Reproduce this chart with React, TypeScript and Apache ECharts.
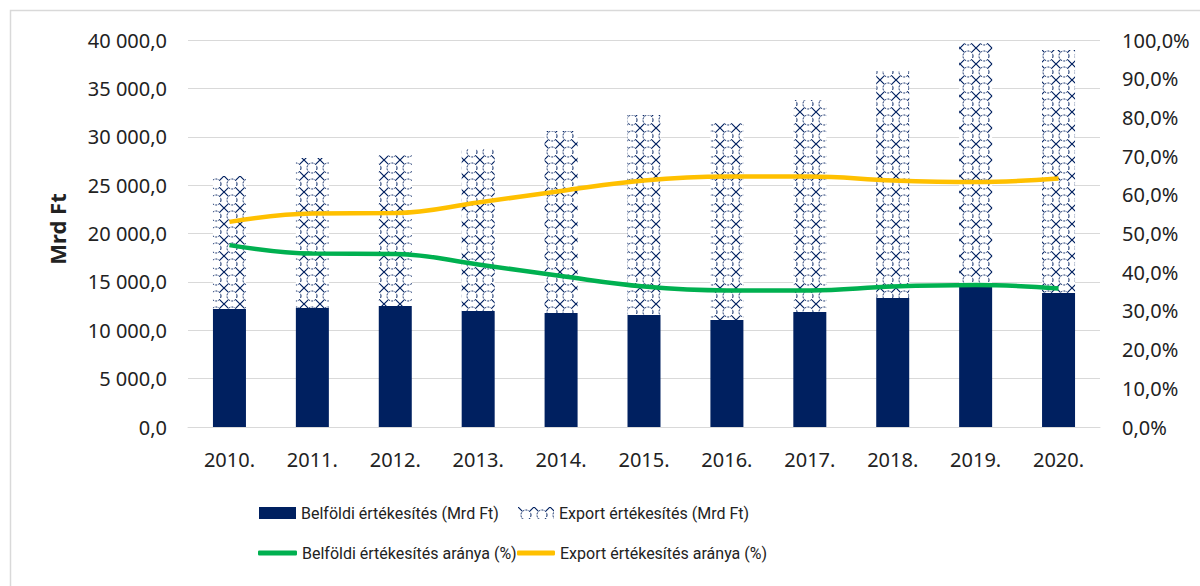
import React, { useEffect, useRef } from "react";
import * as echarts from "echarts";

const categories = ["2010.", "2011.", "2012.", "2013.", "2014.", "2015.", "2016.", "2017.", "2018.", "2019.", "2020."];
const domesticSales = [12200, 12300, 12500, 12000, 11780, 11580, 11060, 11890, 13330, 14570, 13850];
const exportSales = [13750, 15500, 15600, 16730, 18810, 20670, 20360, 21900, 23470, 25120, 25120];
const domesticShare = [47.0, 44.8, 44.7, 42.0, 39.0, 36.3, 35.3, 35.3, 36.3, 36.7, 35.8];
const exportShare = [53.0, 55.2, 55.3, 58.0, 61.0, 63.7, 64.7, 64.7, 63.7, 63.3, 64.2];

const leftTicks = { min: 0, max: 40000, interval: 5000 };
const rightTicks = { min: 0, max: 100, interval: 10 };

const NAVY = "#002060";
const GREEN = "#00B050";
const YELLOW = "#FFC000";
const FONT = "'Noto Sans', sans-serif";
const LEGEND_FONT = "Roboto, 'Noto Sans', sans-serif";

const S_DOM = "Belföldi értékesítés (Mrd Ft)";
const S_EXP = "Export értékesítés (Mrd Ft)";
const S_DOM_SH = "Belföldi értékesítés aránya (%)";
const S_EXP_SH = "Export értékesítés aránya (%)";

function makePattern(): HTMLCanvasElement {
  const s = 16;
  const c = document.createElement("canvas");
  c.width = s;
  c.height = s;
  const ctx = c.getContext("2d")!;
  ctx.fillStyle = "#ffffff";
  ctx.fillRect(0, 0, s, s);
  ctx.strokeStyle = NAVY;
  ctx.lineWidth = 1;
  ctx.setLineDash([2, 1.2]);
  ctx.beginPath();
  ctx.arc(s / 2, s / 2, 5, 0, Math.PI * 2);
  ctx.stroke();
  ctx.setLineDash([]);
  ctx.lineWidth = 1.2;
  ctx.beginPath();
  const a = 4.2;
  for (const [x, y] of [[0, 0], [s, 0], [0, s], [s, s]]) {
    ctx.moveTo(x - a, y - a);
    ctx.lineTo(x + a, y + a);
    ctx.moveTo(x + a, y - a);
    ctx.lineTo(x - a, y + a);
  }
  ctx.stroke();
  return c;
}

function fmtThousands(v: number): string {
  return Math.round(v).toString().replace(/\B(?=(\d{3})+(?!\d))/g, " ") + ",0";
}

export default function App() {
  const ref = useRef<HTMLDivElement>(null);
  useEffect(() => {
    if (!ref.current) return;
    const chart = echarts.init(ref.current, undefined, { renderer: "svg" });
    const pattern = { image: makePattern(), repeat: "repeat" as const };
    const axisText = { fontFamily: FONT, fontSize: 20, color: "#222" };
    const legendText = { fontFamily: LEGEND_FONT, fontSize: 16, color: "#222", lineHeight: 22 };
    const legendBase = {
      orient: "horizontal" as const,
      padding: 0,
      itemGap: 0,
      textStyle: legendText,
      selectedMode: false,
    };
    chart.setOption({
      animation: false,
      backgroundColor: "#ffffff",
      textStyle: { fontFamily: FONT },
      graphic: [
        {
          type: "rect",
          shape: { x: 10.5, y: 10.5, width: 1200, height: 600 },
          style: { fill: "none", stroke: "#d9d9d9", lineWidth: 1.5 },
          silent: true,
        },
        {
          type: "text",
          x: 57,
          y: 229,
          rotation: Math.PI / 2,
          style: {
            text: "Mrd Ft",
            fontFamily: FONT,
            fontSize: 22,
            fontWeight: "bold",
            fill: "#222",
            align: "center",
            verticalAlign: "middle",
          },
        },
      ],
      grid: { left: 188, right: 100, top: 40, bottom: 159 },
      legend: [
        { ...legendBase, left: 259, top: 502, itemWidth: 37, itemHeight: 12, icon: "rect", data: [S_DOM] },
        { ...legendBase, left: 518, top: 502, itemWidth: 36, itemHeight: 12, icon: "rect", data: [S_EXP] },
        { ...legendBase, left: 258, top: 542, itemWidth: 39, itemHeight: 5, icon: "roundRect", data: [S_DOM_SH] },
        { ...legendBase, left: 517, top: 542, itemWidth: 38, itemHeight: 5, icon: "roundRect", data: [S_EXP_SH] },
      ],
      xAxis: {
        type: "category",
        data: categories,
        axisLine: { show: true, lineStyle: { color: "#d9d9d9", width: 1 } },
        axisTick: { show: false },
        axisLabel: { ...axisText, margin: 22 },
      },
      yAxis: [
        {
          type: "value",
          min: leftTicks.min,
          max: leftTicks.max,
          interval: leftTicks.interval,
          axisLine: { show: false },
          axisTick: { show: false },
          splitLine: { lineStyle: { color: "#d9d9d9", width: 1 } },
          axisLabel: { ...axisText, margin: 21, formatter: (v: number) => fmtThousands(v) },
        },
        {
          type: "value",
          min: rightTicks.min,
          max: rightTicks.max,
          interval: rightTicks.interval,
          axisLine: { show: false },
          axisTick: { show: false },
          splitLine: { show: false },
          axisLabel: { ...axisText, margin: 22, formatter: (v: number) => v.toFixed(1).replace(".", ",") + "%" },
        },
      ],
      series: [
        {
          name: S_DOM,
          type: "bar",
          stack: "sales",
          barWidth: 33,
          data: domesticSales,
          itemStyle: { color: NAVY },
        },
        {
          name: S_EXP,
          type: "bar",
          stack: "sales",
          barWidth: 33,
          data: exportSales,
          itemStyle: { color: pattern },
        },
        {
          name: S_DOM_SH,
          type: "line",
          yAxisIndex: 1,
          smooth: 0.4,
          symbol: "none",
          data: domesticShare,
          lineStyle: { color: GREEN, width: 4.5 },
          itemStyle: { color: GREEN },
        },
        {
          name: S_EXP_SH,
          type: "line",
          yAxisIndex: 1,
          smooth: 0.4,
          symbol: "none",
          data: exportShare,
          lineStyle: { color: YELLOW, width: 4.5 },
          itemStyle: { color: YELLOW },
        },
      ],
    });
    return () => chart.dispose();
  }, []);
  return (
    <div
      ref={ref}
      style={{ position: "fixed", left: 0, top: 0, width: 1200, height: 586 }}
    />
  );
}
